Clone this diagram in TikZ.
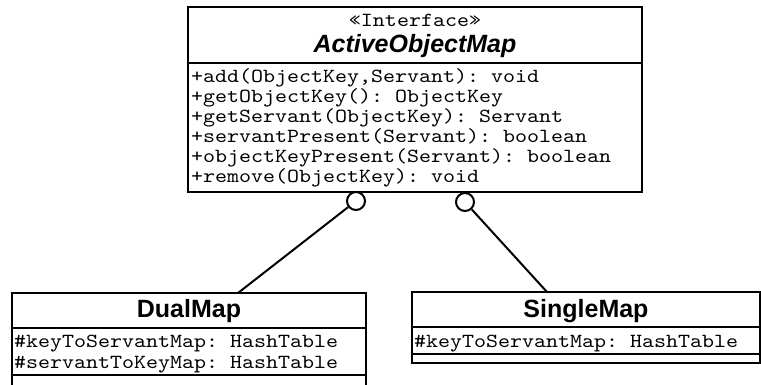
\documentclass[tikz,border=0pt]{standalone}
\usepackage{fontspec}
\setmainfont{Liberation Sans}
\setsansfont{Liberation Sans}
\setmonofont{lmmono10-regular.otf}[FakeStretch=1.143]
\usepackage{tikz}
\usetikzlibrary{positioning}

\begin{document}
\begin{tikzpicture}[x=1pt, y=-1pt,
    comp/.style={draw, line width=2.4pt, inner sep=0pt, outer sep=0pt,
                 anchor=north west},
    member/.style={font=\fontsize{20}{20}\selectfont\ttfamily,
                   anchor=base west, inner sep=0pt},
    cname/.style={font=\fontsize{25}{25}\selectfont\sffamily\bfseries,
                  anchor=base, inner sep=0pt},
    lolli/.style={draw, circle, line width=2pt, fill=white,
                  minimum size=18pt, inner sep=0pt},
    conn/.style={line width=2pt}
  ]
  \useasboundingbox (0,0) rectangle (761,384);
  \clip (0,0) rectangle (761,384);
  % Interface
  \node[comp, minimum width=454pt, minimum height=56pt] (aomHead) at (188,7) {};
  \node[comp, minimum width=454pt, minimum height=129pt] (aomOps) at (188,63) {};
  \node[member, anchor=base] (aomStereo) at (415,26) {«Interface»};
  \node[cname, font=\fontsize{25}{25}\selectfont\sffamily\bfseries\itshape]
    (aomName) at (415,52) {ActiveObjectMap};
  \node[member] (opAdd) at (191,82) {+add(ObjectKey,Servant): void};
  \node[member] (opGetKey) at (191,102) {+getObjectKey(): ObjectKey};
  \node[member] (opGetServant) at (191,122) {+getServant(ObjectKey): Servant};
  \node[member] (opServantPresent) at (191,142) {+servantPresent(Servant): boolean};
  \node[member] (opKeyPresent) at (191,162) {+objectKeyPresent(Servant): boolean};
  \node[member] (opRemove) at (191,182) {+remove(ObjectKey): void};
  % DualMap
  \node[comp, minimum width=354pt, minimum height=35pt] (dmHead) at (12,293) {};
  \node[comp, minimum width=354pt, minimum height=47pt] (dmAttr) at (12,328) {};
  \node[comp, minimum width=354pt, minimum height=20pt] (dmOps) at (12,375) {};
  \node[cname] (dmName) at (189,317) {DualMap};
  \node[member] (dmKeyMap) at (14,347) {\#keyToServantMap: HashTable};
  \node[member] (dmServantMap) at (14,368) {\#servantToKeyMap: HashTable};
  % SingleMap
  \node[comp, minimum width=348pt, minimum height=35pt] (smHead) at (412,292) {};
  \node[comp, minimum width=348pt, minimum height=27pt] (smAttr) at (412,327) {};
  \node[comp, minimum width=348pt, minimum height=9pt] (smOps) at (412,354) {};
  \node[cname] (smName) at (586,317) {SingleMap};
  \node[member] (smKeyMap) at (414,347) {\#keyToServantMap: HashTable};
  % Realisation lollipops
  \node[lolli] (dmLolli) at (356,201) {};
  \node[lolli] (smLolli) at (465,202) {};
  \coordinate (dmTop) at (238,293);
  \coordinate (smTop) at (547,292);
  \draw[conn] (dmLolli) -- (dmTop);
  \draw[conn] (smLolli) -- (smTop);
\end{tikzpicture}
\end{document}
